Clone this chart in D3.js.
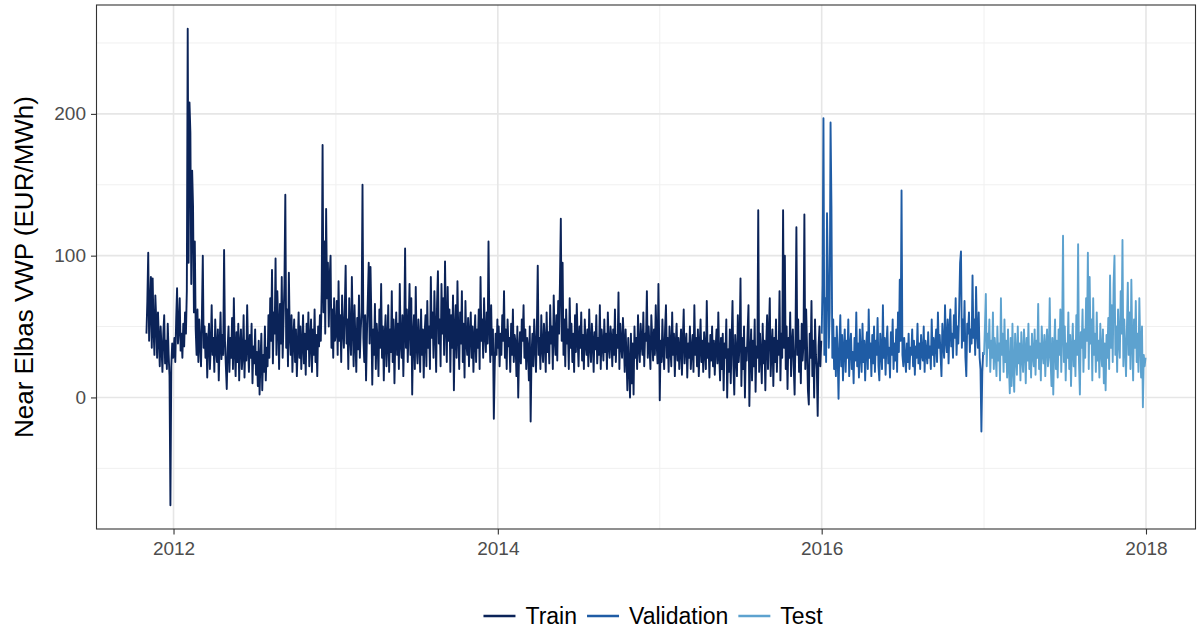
<!DOCTYPE html>
<html>
<head>
<meta charset="utf-8">
<script src="https://cdn.jsdelivr.net/npm/d3@7"></script>
<style>
  html, body { margin: 0; padding: 0; background: #ffffff; }
  svg { display: block; }
  text { font-family: "Liberation Sans", Arial, Helvetica, sans-serif; }
</style>
</head>
<body>
<svg id="chart" width="1198" height="633"></svg>
<script>
// Near Elbas volume-weighted price, one value every second day (EUR/MWh)

// Train: 2011-11-01 .. 2015-12-31
const train2011 = [45,68,102,40,62,85,35,84,48,30,72,55,28,60,42,22,50,35,18,45,58,24,40,20,52,30,15,-76,22,38,28];
const train2012 = [
  30,42,25,55,77,38,48,70,33,45, 28,52,36,60,45,
  75,260,95,208,187,80,160,135,60,110,
  48,30,62,25,55,38,22,58,100,35,
  50,28,45,14,40,52,20,36,65,30,
  42,18,55,34,25,48,12,38,60,27,
  44,30,104,40,22,6,35,50,18,42,
  28,56,20,70,33,15,46,25,52,12,
  38,48,20,30,58,14,40,26,65,35,
  18,44,28,52,10,36,24,48,16,32,
  8,40,2,26,45,5,30,18,50,12,
  35,22,58,28,70,40,90,24,60,45,
  98,30,75,52,20,66,38,85,28,55,
  80,143,35,62,22,88,45,30,58,18,
  42,55,25,48,15,36,60,28,50,20,
  38,58,24,45,16,52,34,60,22,40,
  55,18,48,30,62,25,44,15,50,36,
  58,40,75,178,60,110,45,133,70,95,
  50,85,100,35,62,28,70,40
];
const train2013 = [
  45,68,30,82,40,58,25,72,48,35,
  62,93,38,55,20,70,44,30,85,50,
  22,65,40,18,56,34,72,28,48,60,
  150,42,25,58,12,45,70,95,38,92,
  55,9,48,30,66,20,52,40,15,62,
  35,80,28,50,12,44,58,22,38,65,
  18,48,32,75,25,55,10,42,60,30,
  52,20,80,38,28,58,15,46,105,35,
  62,25,50,80,30,70,2,44,58,20,
  78,36,24,55,40,18,62,30,48,14,
  45,58,22,68,35,50,20,85,42,60,
  28,75,48,18,66,89,38,55,22,80,
  45,70,30,96,52,25,78,40,62,18,
  58,35,72,5,48,65,28,82,44,20,
  60,38,75,25,52,14,68,40,30,56,
  22,45,60,28,50,18,42,58,25,48,
  35,62,20,85,40,55,28,70,45,32,
  60,38,110,50,25,65,30,48,-15,22,
  45,30,55
];
const train2014 = [
  35,50,22,45,30,58,40,75,28,48,
  20,55,36,42,18,52,30,62,25,44,
  38,15,50,0,33,46,24,55,40,65,
  28,48,20,42,35,12,50,-17,30,45,
  22,55,38,18,48,93,30,42,20,58,
  35,25,52,40,18,60,32,46,24,65,
  38,50,20,72,42,30,58,26,68,45,
  80,126,40,95,30,55,22,62,38,48,
  20,70,35,52,25,45,18,58,32,66,
  40,22,50,35,60,26,44,20,55,38,
  30,48,22,62,36,25,52,40,18,46,
  34,58,24,42,30,65,20,48,38,26,
  55,32,45,20,60,36,28,50,42,22,
  48,30,62,25,44,35,74,20,52,38,
  28,56,40,18,48,30,5,42,22,0,
  45,10,38,2,50,28,42,20,58,35,
  25,52,38,30,60,22,45,40,75,28,
  50,35,20,58,42,26,48,30,65,38,
  24,80,35
];
const train2015 = [
  -2,40,25,55,32,20,48,65,28,42,
  18,50,35,22,60,30,45,15,38,52,
  26,42,20,35,48,16,40,62,24,36,
  45,14,38,28,50,20,34,44,18,65,
  30,42,22,48,15,36,55,25,40,18,
  46,32,20,68,28,38,14,44,26,50,
  22,40,16,35,48,24,60,30,12,42,
  20,45,5,38,28,55,0,34,18,48,
  10,40,68,22,2,44,30,15,58,25,
  38,84,8,42,20,50,0,35,26,46,
  65,-6,30,48,12,40,22,55,4,36,
  28,132,18,45,30,10,52,24,40,5,
  38,58,20,45,70,15,34,48,8,42,
  25,55,18,40,30,75,12,45,28,132,
  35,100,20,50,6,42,28,60,15,38,
  48,22,2,44,120,30,55,18,40,10,
  52,26,38,129,20,62,35,5,-5,45,
  28,68,15,40,0,55,30,20,-13,36,
  50,22,40
];

// Validation: 2016
const validation2016 = [
  45,80,197,30,70,25,130,88,35,60,
  194,135,28,55,20,42,15,50,30,-1,
  38,58,22,44,12,35,48,18,40,28,
  55,15,36,45,20,32,10,42,26,60,
  22,38,14,48,30,18,52,25,40,12,
  35,46,20,62,28,38,15,44,24,50,
  18,40,30,56,22,12,45,32,20,65,
  28,42,16,38,50,24,35,14,46,30,
  55,20,38,26,48,18,60,32,83,40,
  146,30,22,42,28,18,38,25,45,20,
  35,30,48,22,40,16,36,28,52,24,
  38,20,44,30,26,50,18,40,32,24,
  46,28,36,20,55,30,42,22,38,48,
  25,60,35,44,30,15,52,38,28,65,
  40,32,55,24,48,62,36,45,28,58,
  42,70,30,50,38,64,95,103,35,55,
  40,68,28,15,52,45,60,32,48,38,
  86,42,55,30,78,46,35,60,28,20,
  -24,18,32
];

// Test: 2017
const test2017 = [
  30,50,73,22,45,35,55,18,40,28,
  60,20,42,32,15,50,26,38,12,70,
  30,45,18,55,25,40,14,48,22,3,
  42,8,52,20,4,45,30,16,50,24,
  38,12,46,28,18,48,34,10,42,26,
  52,20,36,14,45,30,22,48,16,40,
  28,66,20,38,12,50,32,24,44,15,
  36,48,22,30,70,26,8,42,2,35,
  55,20,40,14,48,30,62,18,45,114,
  25,50,12,38,28,60,20,44,8,35,
  52,22,40,15,58,30,108,25,2,46,
  35,62,18,48,28,70,40,102,20,85,
  38,55,12,70,30,45,18,60,26,40,
  14,52,32,22,48,10,38,5,44,28,
  56,20,86,35,65,25,80,100,30,50,
  18,62,40,28,75,45,111,22,55,35,
  15,48,81,30,60,20,83,40,12,55,
  35,68,25,45,18,70,38,14,50,-7,
  30,22,28
];

const seriesNames = ["Train", "Validation", "Test"];
const seriesColors = ["#0b2358", "#1f5ca5", "#5da2cf"];
const xTickYears = [2012, 2014, 2016, 2018];
const xMinorYears = [2013, 2015, 2017];
const yTicks = [0, 100, 200];
const yMinor = [-50, 50, 150, 250];
const yTitle = "Near Elbas VWP (EUR/MWh)";

const DAY = 864e5;
function block(startUtc, values) {
  return values.map((v, i) => ({ date: new Date(startUtc + i * 2 * DAY), value: v }));
}

const series = [
  { name: "Train", points: [
      ...block(Date.UTC(2011, 10, 1), train2011),
      ...block(Date.UTC(2012, 0, 1), train2012),
      ...block(Date.UTC(2013, 0, 1), train2013),
      ...block(Date.UTC(2014, 0, 1), train2014),
      ...block(Date.UTC(2015, 0, 1), train2015)
  ]},
  { name: "Validation", points: block(Date.UTC(2016, 0, 1), validation2016) },
  { name: "Test", points: block(Date.UTC(2017, 0, 1), test2017) }
];

const W = 1198, H = 633;
const panel = { left: 96.5, top: 5, right: 1195.5, bottom: 529 };

const svg = d3.select("#chart");
svg.append("rect").attr("width", W).attr("height", H).attr("fill", "#ffffff");

// scales with 5% padding around the data range
const all = series.flatMap(s => s.points);
const tExt = d3.extent(all, d => +d.date);
const tPad = (tExt[1] - tExt[0]) * 0.05;
const x = d3.scaleUtc()
  .domain([new Date(tExt[0] - tPad), new Date(tExt[1] + tPad)])
  .range([panel.left, panel.right]);

const vExt = d3.extent(all, d => d.value);
const vPad = (vExt[1] - vExt[0]) * 0.05;
const y = d3.scaleLinear()
  .domain([vExt[0] - vPad, vExt[1] + vPad])
  .range([panel.bottom, panel.top]);

const color = d3.scaleOrdinal().domain(seriesNames).range(seriesColors);

const yearDate = yr => new Date(Date.UTC(yr, 0, 1));

// grid
const grid = svg.append("g");
grid.selectAll(".vminor").data(xMinorYears).join("line")
  .attr("x1", d => x(yearDate(d))).attr("x2", d => x(yearDate(d)))
  .attr("y1", panel.top).attr("y2", panel.bottom)
  .attr("stroke", "#f0f0f0").attr("stroke-width", 1);
grid.selectAll(".hminor").data(yMinor).join("line")
  .attr("x1", panel.left).attr("x2", panel.right)
  .attr("y1", d => y(d)).attr("y2", d => y(d))
  .attr("stroke", "#f0f0f0").attr("stroke-width", 1);
grid.selectAll(".vmajor").data(xTickYears).join("line")
  .attr("x1", d => x(yearDate(d))).attr("x2", d => x(yearDate(d)))
  .attr("y1", panel.top).attr("y2", panel.bottom)
  .attr("stroke", "#e6e6e6").attr("stroke-width", 1.6);
grid.selectAll(".hmajor").data(yTicks).join("line")
  .attr("x1", panel.left).attr("x2", panel.right)
  .attr("y1", d => y(d)).attr("y2", d => y(d))
  .attr("stroke", "#e6e6e6").attr("stroke-width", 1.6);

// series lines
const line = d3.line().x(d => x(d.date)).y(d => y(d.value));
svg.append("g").selectAll("path").data(series).join("path")
  .attr("d", d => line(d.points))
  .attr("fill", "none")
  .attr("stroke", d => color(d.name))
  .attr("stroke-width", 1.9)
  .attr("stroke-linejoin", "round");

// panel border
svg.append("rect")
  .attr("x", panel.left).attr("y", panel.top)
  .attr("width", panel.right - panel.left).attr("height", panel.bottom - panel.top)
  .attr("fill", "none").attr("stroke", "#333333").attr("stroke-width", 1.1);

// axes
const xAxis = d3.axisBottom(x)
  .tickValues(xTickYears.map(yearDate))
  .tickFormat(d3.utcFormat("%Y"))
  .tickSize(5.5).tickPadding(7);
const gx = svg.append("g").attr("transform", `translate(0,${panel.bottom})`).call(xAxis);
gx.select(".domain").remove();
gx.selectAll(".tick line").attr("stroke", "#333333").attr("stroke-width", 1.1);
gx.selectAll(".tick text").attr("fill", "#4d4d4d")
  .style("font-size", "19px").style("font-family", "Liberation Sans, Arial, sans-serif");

const yAxis = d3.axisLeft(y).tickValues(yTicks).tickFormat(d3.format("d"))
  .tickSize(5.5).tickPadding(5);
const gy = svg.append("g").attr("transform", `translate(${panel.left},0)`).call(yAxis);
gy.select(".domain").remove();
gy.selectAll(".tick line").attr("stroke", "#333333").attr("stroke-width", 1.1);
gy.selectAll(".tick text").attr("fill", "#4d4d4d")
  .style("font-size", "19px").style("font-family", "Liberation Sans, Arial, sans-serif");

// y-axis title
svg.append("text")
  .attr("transform", `translate(33,${(panel.top + panel.bottom) / 2}) rotate(-90)`)
  .attr("text-anchor", "middle")
  .attr("fill", "#000000")
  .style("font-size", "26px")
  .text(yTitle);

// legend
const legendY = 616;
const legendItems = svg.append("g");
const keyW = 32, keyGap = 10, itemGap = 10;
let cursor = 0;
const itemNodes = seriesNames.map(name => {
  const g = legendItems.append("g");
  g.append("line").attr("x1", 0).attr("x2", keyW).attr("y1", 0).attr("y2", 0)
    .attr("stroke", color(name)).attr("stroke-width", 2.4);
  const t = g.append("text").attr("x", keyW + keyGap).attr("y", 0).attr("dy", "0.35em")
    .attr("fill", "#000000").style("font-size", "23px").text(name);
  return { g, t };
});
itemNodes.forEach(({ g, t }) => {
  const w = keyW + keyGap + t.node().getComputedTextLength();
  g.attr("transform", `translate(${cursor},0)`);
  cursor += w + itemGap;
});
const legendWidth = cursor - itemGap;
const legendCenter = (panel.left + panel.right) / 2 + 7;
legendItems.attr("transform", `translate(${legendCenter - legendWidth / 2},${legendY})`);
</script>
</body>
</html>
